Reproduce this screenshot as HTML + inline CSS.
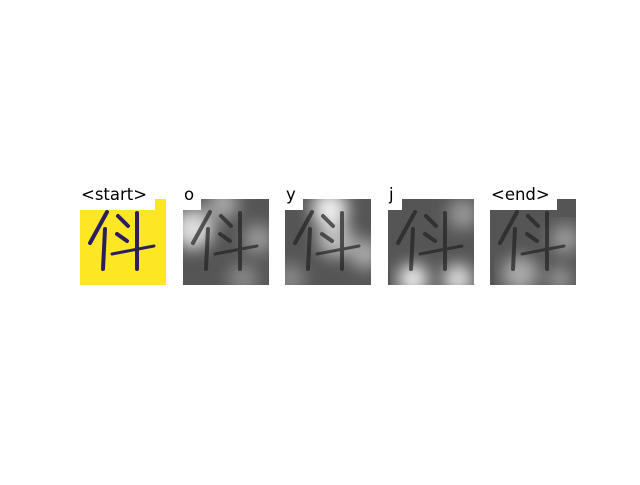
<!DOCTYPE html>
<html><head><meta charset="utf-8"><style>
body{margin:0;background:#fff;width:640px;height:480px;overflow:hidden}
text{font-family:"DejaVu Sans","Liberation Sans",sans-serif;font-size:16.5px;fill:#000}
</style></head><body>
<svg width="640" height="480">
<defs>
<g id="glyph">
<path d="M27,13 L10,44" stroke-width="4" stroke-linecap="round"/>
<path d="M25,30 L23,70" stroke-width="4" stroke-linecap="round"/>
<path d="M38,17 L48,27" stroke-width="4" stroke-linecap="round"/>
<path d="M37,35 L47,42" stroke-width="4" stroke-linecap="round"/>
<path d="M32,55 L74,47" stroke-width="3" stroke-linecap="round"/>
<path d="M57,14 L57,70" stroke-width="4" stroke-linecap="round"/>
</g>
<filter id="blur"><feGaussianBlur stdDeviation="8"/></filter>
<clipPath id="clip"><rect width="86" height="86"/></clipPath>
</defs>
<g id="panels"></g>
</svg>
<script>
const labels=['<start>','o','y','j','<end>'];
const xs=[80,183,285,388,490];
const labelW=[75,18,18,14,67];
// highlight spots per attention panel [cx,cy,r,opacity]
const spots=[[],
 [[10,30,20,0.8],[40,5,15,0.5],[75,40,15,0.4],[60,80,15,0.3]],
 [[45,10,18,0.9],[50,40,18,0.6],[80,55,15,0.5],[5,80,15,0.3]],
 [[25,80,15,0.9],[70,80,15,0.8],[75,15,15,0.4]],
 [[30,75,18,0.5],[75,40,15,0.4],[70,80,12,0.4]]];
const NS='http://www.w3.org/2000/svg';
const root=document.getElementById('panels');
function mk(t,a,p){const e=document.createElementNS(NS,t);for(const k in a)e.setAttribute(k,a[k]);p.appendChild(e);return e;}
labels.forEach((lab,i)=>{
 const g=mk('g',{transform:`translate(${xs[i]},199)`},root);
 
 
 const c=mk('g',{'clip-path':'url(#clip)'},g);
 if(i===0){
  mk('rect',{width:86,height:86,fill:'#fde725'},c);
  mk('use',{href:'#glyph',stroke:'#2c1e5c',fill:'none'},c);
 } else {
  mk('rect',{width:86,height:86,fill:'#555'},c);
  const sg=mk('g',{filter:'url(#blur)'},c);
  spots[i].forEach(s=>mk('circle',{cx:s[0],cy:s[1],r:s[2],fill:'#fff',opacity:s[3]},sg));
  mk('use',{href:'#glyph',stroke:'#222',fill:'none',opacity:0.7},c);
 }
 mk('rect',{x:0,y:-16,width:labelW[i],height:27,fill:'#fff'},g);
 const t=mk('text',{x:1,y:1},g);
 t.textContent=lab;
 
 
});
</script>
</body></html>
